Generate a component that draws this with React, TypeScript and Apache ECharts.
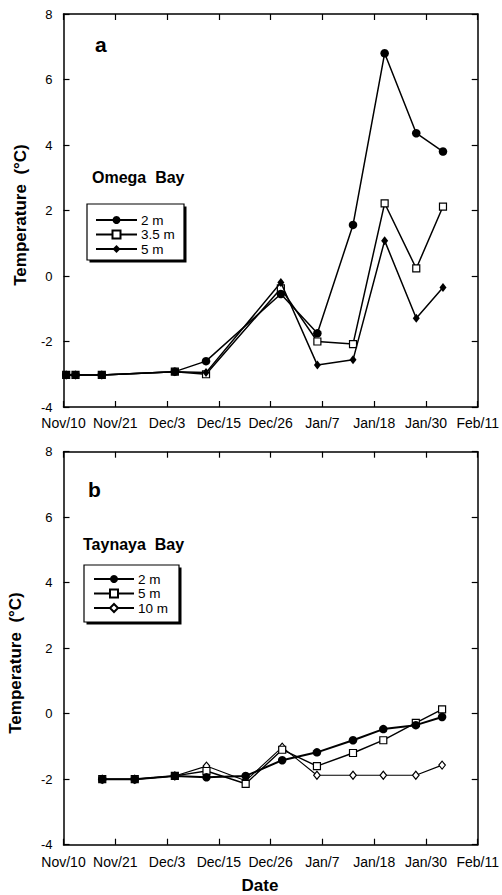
import { useEffect, useRef } from "react";
import * as echarts from "echarts";

// Date axis: days counted from Nov 10; eight equal steps reach Feb 11.
const dateTicks = ["Nov/10", "Nov/21", "Dec/3", "Dec/15", "Dec/26", "Jan/7", "Jan/18", "Jan/30", "Feb/11"];
const dayMax = 93;
const dayStep = dayMax / 8;

// Temperature axis
const tempMin = -4;
const tempMax = 8;
const tempStep = 2;

// Omega Bay sampling days and temperatures (°C)
const omegaDays = [0.6, 2.7, 8.6, 25, 32, 48.8, 57, 65, 72.1, 79.2, 85.2];
const omega2m = [-3.02, -3.02, -3.02, -2.92, -2.6, -0.55, -1.75, 1.56, 6.8, 4.36, 3.8];
const omega35m = [-3.02, -3.02, -3.02, -2.92, -3.0, -0.38, -2.0, -2.08, 2.22, 0.23, 2.12];
const omega5m = [-3.02, -3.02, -3.02, -2.92, -2.95, -0.2, -2.72, -2.56, 1.08, -1.29, -0.35];

// Taynaya Bay sampling days and temperatures (°C)
const taynayaDays = [8.7, 16, 25, 32.1, 40.9, 49.1, 56.9, 65, 71.8, 79.1, 85];
const taynaya2m = [-2.0, -2.0, -1.9, -1.94, -1.9, -1.42, -1.18, -0.81, -0.47, -0.35, -0.1];
const taynaya5m = [-2.0, -2.0, -1.9, -1.75, -2.14, -1.1, -1.6, -1.2, -0.81, -0.28, 0.13];
const taynaya10m = [-2.0, -2.0, -1.9, -1.6, -2.05, -1.02, -1.88, -1.88, -1.88, -1.88, -1.57];

const FONT = '"Liberation Sans", Arial, Helvetica, sans-serif';

const pairs = (xs: number[], ys: number[]) => xs.map((x, i) => [x, ys[i]]);

function axes(labelMargin: number) {
  const line = { show: true, onZero: false, lineStyle: { color: "#000", width: 1.5 } };
  const tick = { show: true, inside: true, length: 6, lineStyle: { color: "#000", width: 1.2 } };
  const xBase = { type: "value", min: 0, max: dayMax, interval: dayStep, axisLine: line, axisTick: tick, splitLine: { show: false } };
  const yBase = { type: "value", min: tempMin, max: tempMax, interval: tempStep, axisLine: line, axisTick: tick, splitLine: { show: false } };
  return {
    xAxis: [
      {
        ...xBase,
        position: "bottom",
        axisLabel: {
          show: true,
          margin: labelMargin,
          color: "#000",
          fontSize: 14,
          fontFamily: FONT,
          formatter: (v: number) => dateTicks[Math.round(v / dayStep)] ?? "",
        },
      },
      { ...xBase, position: "top", axisLabel: { show: false } },
    ],
    yAxis: [
      {
        ...yBase,
        position: "left",
        axisLabel: { show: true, margin: 11, color: "#000", fontSize: 13, fontFamily: FONT },
      },
      { ...yBase, position: "right", axisLabel: { show: false } },
    ],
  };
}

function lineSeries(name: string, data: number[][], symbol: string, size: any, fill: string, width: number, z: number) {
  return {
    type: "line",
    name,
    data,
    xAxisIndex: 0,
    yAxisIndex: 0,
    symbol,
    symbolSize: size,
    showAllSymbol: true,
    z,
    lineStyle: { color: "#000", width },
    itemStyle: { color: fill, borderColor: "#000", borderWidth: fill === "#000" ? 0 : 1.2, opacity: 1 },
    emphasis: { disabled: true },
  };
}

function textEl(text: string, x: number, y: number, size: number, extra: any = {}) {
  return {
    type: "text",
    x,
    y,
    z: 10,
    ...extra,
    style: {
      text,
      fill: "#000",
      fontSize: size,
      fontWeight: "bold",
      fontFamily: FONT,
      align: extra.align ?? "left",
      verticalAlign: "middle",
    },
  };
}

function legendBox(x: number, y: number, w: number, h: number) {
  return [
    { type: "rect", z: 1, shape: { x: x + 2.5, y: y + 2.5, width: w, height: h }, style: { fill: "#000" } },
    { type: "rect", z: 2, shape: { x, y, width: w, height: h }, style: { fill: "#fff", stroke: "#000", lineWidth: 1.2 } },
  ];
}

function legendCfg(names: string[], left: number, top: number, itemWidth: number) {
  return {
    data: names,
    orient: "vertical",
    left,
    top,
    z: 20,
    padding: 0,
    itemGap: 0.5,
    itemWidth,
    itemHeight: 10,
    selectedMode: false,
    textStyle: { color: "#000", fontSize: 13.5, lineHeight: 13.5, fontFamily: FONT, padding: [0, 0, 0, -1] },
  };
}

const omegaOption = {
  animation: false,
  backgroundColor: "#fff",
  grid: { left: 63.5, top: 14, width: 419, height: 393, containLabel: false },
  ...axes(9),
  legend: legendCfg(["2 m", "3.5 m", "5 m"], 95, 213, 41),
  series: [
    lineSeries("3.5 m", pairs(omegaDays, omega35m), "rect", 7, "#fff", 1.5, 2),
    lineSeries("2 m", pairs(omegaDays, omega2m), "circle", 8.5, "#000", 1.5, 3),
    lineSeries("5 m", pairs(omegaDays, omega5m), "diamond", [7, 9], "#000", 1.5, 4),
  ],
  graphic: [
    ...legendBox(87, 204, 97, 56),
    textEl("a", 95, 44, 21),
    textEl("Omega  Bay", 92, 177, 16),
    textEl("Temperature  (°C)", 20, 215, 17, { rotation: Math.PI / 2, align: "center" }),
  ],
};

const taynayaOption = {
  animation: false,
  backgroundColor: "#fff",
  grid: { left: 63.5, top: 11.7, width: 419, height: 393, containLabel: false },
  ...axes(10),
  legend: legendCfg(["2 m", "5 m", "10 m"], 93, 132, 40),
  series: [
    lineSeries("10 m", pairs(taynayaDays, taynaya10m), "diamond", [6.5, 8], "#fff", 1.1, 2),
    lineSeries("5 m", pairs(taynayaDays, taynaya5m), "rect", 7, "#fff", 1.4, 3),
    lineSeries("2 m", pairs(taynayaDays, taynaya2m), "circle", 8.5, "#000", 2, 4),
  ],
  graphic: [
    ...legendBox(84, 125, 95, 57),
    textEl("b", 88, 49, 21),
    textEl("Taynaya  Bay", 83, 104, 16),
    textEl("Temperature  (°C)", 15, 223, 17, { rotation: Math.PI / 2, align: "center" }),
    textEl("Date", 260, 445, 17, { align: "center" }),
  ],
};

function Panel({ option, top, height }: { option: any; top: number; height: number }) {
  const ref = useRef<HTMLDivElement>(null);
  useEffect(() => {
    if (!ref.current) return;
    const chart = echarts.init(ref.current, undefined, { renderer: "svg" });
    chart.setOption(option);
    return () => chart.dispose();
  }, [option]);
  return <div ref={ref} style={{ position: "absolute", left: 0, top, width: 502, height }} />;
}

export default function App() {
  return (
    <div style={{ position: "absolute", left: 0, top: 0, width: 502, height: 895, background: "#fff" }}>
      <Panel option={omegaOption} top={0} height={440} />
      <Panel option={taynayaOption} top={440} height={455} />
    </div>
  );
}
